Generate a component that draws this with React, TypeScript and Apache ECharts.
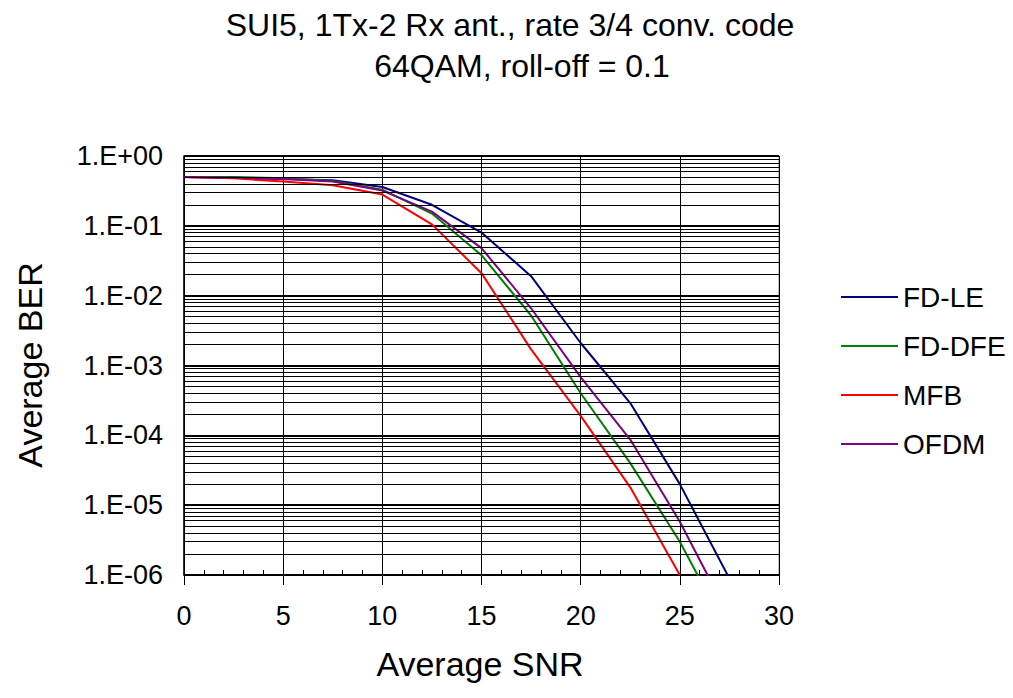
import React, { useEffect, useRef } from "react";
import * as echarts from "echarts";

// ---- data ----
const titleLines = ["SUI5, 1Tx-2 Rx ant., rate 3/4 conv. code", "64QAM, roll-off = 0.1"];
const xAxisName = "Average SNR";
const yAxisName = "Average BER";
const snr = [0, 2.5, 5, 7.5, 10, 12.5, 15, 17.5, 20, 22.5, 25, 27.5];
const fdLE = [0.5, 0.49, 0.47, 0.45, 0.36, 0.2, 0.08, 0.019, 0.0021, 2.9e-4, 2.0e-5, 8.9e-7];
const fdDFE = [0.5, 0.5, 0.48, 0.44, 0.33, 0.15, 0.038, 5.2e-3, 4.0e-4, 4.0e-5, 3.0e-6, 1.4e-7];
const mfb = [0.5, 0.48, 0.43, 0.38, 0.28, 0.105, 0.021, 1.7e-3, 1.9e-4, 1.8e-5, 1.0e-6];
const ofdm = [0.5, 0.49, 0.47, 0.43, 0.32, 0.16, 0.048, 6.6e-3, 6.8e-4, 8.7e-5, 5.8e-6, 2.5e-7];
const seriesNames = ["FD-LE", "FD-DFE", "MFB", "OFDM"];
const seriesValues = [fdLE, fdDFE, mfb, ofdm];
const seriesColors = ["#000080", "#008000", "#ff0000", "#800080"];
const yTickLabels = ["1.E+00", "1.E-01", "1.E-02", "1.E-03", "1.E-04", "1.E-05", "1.E-06"];
const minorMultipliers = [2, 3, 4, 5, 6, 7, 8, 9];
const decadeExponents = [-6, -5, -4, -3, -2, -1];

const FONT = "'Liberation Sans', Arial, sans-serif";

export default function App() {
  const ref = useRef<HTMLDivElement>(null);
  useEffect(() => {
    if (!ref.current) return;
    const chart = echarts.init(ref.current, null, { renderer: "svg" });
    const minorValues: number[] = [];
    decadeExponents.forEach((e) =>
      minorMultipliers.forEach((m) => minorValues.push(parseFloat((m * Math.pow(10, e)).toPrecision(6))))
    );
    const option: any = {
      animation: false,
      backgroundColor: "#ffffff",
      textStyle: { fontFamily: FONT },
      grid: {
        left: 184,
        top: 156,
        right: 234,
        bottom: 123,
        show: true,
        borderColor: "#808080",
        borderWidth: 1,
      },
      legend: {
        orient: "vertical",
        left: 836,
        top: 278,
        icon: "rect",
        itemWidth: 57,
        itemHeight: 2,
        itemGap: 21,
        data: seriesNames,
        textStyle: { fontSize: 28, color: "#000", fontFamily: FONT },
      },
      xAxis: [
        {
          type: "value",
          min: 0,
          max: 30,
          interval: 5,
          position: "bottom",
          axisLine: { show: true, lineStyle: { color: "#000", width: 1.5 } },
          axisTick: { show: true, inside: false, length: 10, lineStyle: { color: "#000", width: 1 } },
          axisLabel: { fontSize: 27, color: "#000", margin: 27, fontFamily: FONT },
          splitLine: { show: true, lineStyle: { color: "#000", width: 1 } },
        },
        {
          type: "value",
          min: 0,
          max: 30,
          interval: 1,
          position: "bottom",
          axisLine: { show: false },
          axisTick: { show: true, inside: true, length: 5, lineStyle: { color: "#000", width: 1 } },
          axisLabel: { show: false },
          splitLine: { show: false },
        },
      ],
      yAxis: {
        type: "log",
        logBase: 10,
        min: 1e-6,
        max: 1,
        splitNumber: 6,
        axisLine: { show: true, lineStyle: { color: "#000", width: 1.5 } },
        axisTick: { show: false },
        axisLabel: {
          fontSize: 27,
          color: "#000",
          margin: 21,
          fontFamily: FONT,
          formatter: (v: number) => yTickLabels[Math.round(-Math.log10(v))] ?? "",
        },
        splitLine: { show: true, lineStyle: { color: "#000", width: 2 } },
      },
      series: [
        {
          name: "minor-grid",
          type: "line",
          data: [],
          z: 1,
          silent: true,
          markLine: {
            silent: true,
            precision: 12,
            symbol: ["none", "none"],
            label: { show: false },
            lineStyle: { color: "#000", width: 1, type: "solid" },
            data: minorValues.map((v) => ({ yAxis: v })),
          },
        },
        ...seriesNames.map((name, i) => ({
          name,
          type: "line",
          z: 3,
          symbol: "none",
          showSymbol: false,
          clip: true,
          color: seriesColors[i],
          itemStyle: { color: seriesColors[i] },
          lineStyle: { color: seriesColors[i], width: 2 },
          data: seriesValues[i].map((v, j) => [snr[j], v]),
        })),
      ],
      graphic: [
        {
          type: "text",
          x: 510,
          y: 25,
          style: {
            text: titleLines[0],
            fontSize: 32,
            fontFamily: FONT,
            fill: "#000",
            align: "center",
            verticalAlign: "middle",
          },
        },
        {
          type: "text",
          x: 522,
          y: 66,
          style: {
            text: titleLines[1],
            fontSize: 32,
            fontFamily: FONT,
            fill: "#000",
            align: "center",
            verticalAlign: "middle",
          },
        },
        {
          type: "text",
          x: 480,
          y: 664,
          style: {
            text: xAxisName,
            fontSize: 34,
            fontFamily: FONT,
            fill: "#000",
            align: "center",
            verticalAlign: "middle",
          },
        },
        {
          type: "text",
          x: 30,
          y: 365,
          rotation: Math.PI / 2,
          style: {
            text: yAxisName,
            fontSize: 34,
            fontFamily: FONT,
            fill: "#000",
            align: "center",
            verticalAlign: "middle",
          },
        },
      ],
    };
    chart.setOption(option);
    return () => chart.dispose();
  }, []);
  return (
    <div
      ref={ref}
      style={{ position: "fixed", left: 0, top: 0, width: 1013, height: 698, background: "#fff" }}
    />
  );
}
